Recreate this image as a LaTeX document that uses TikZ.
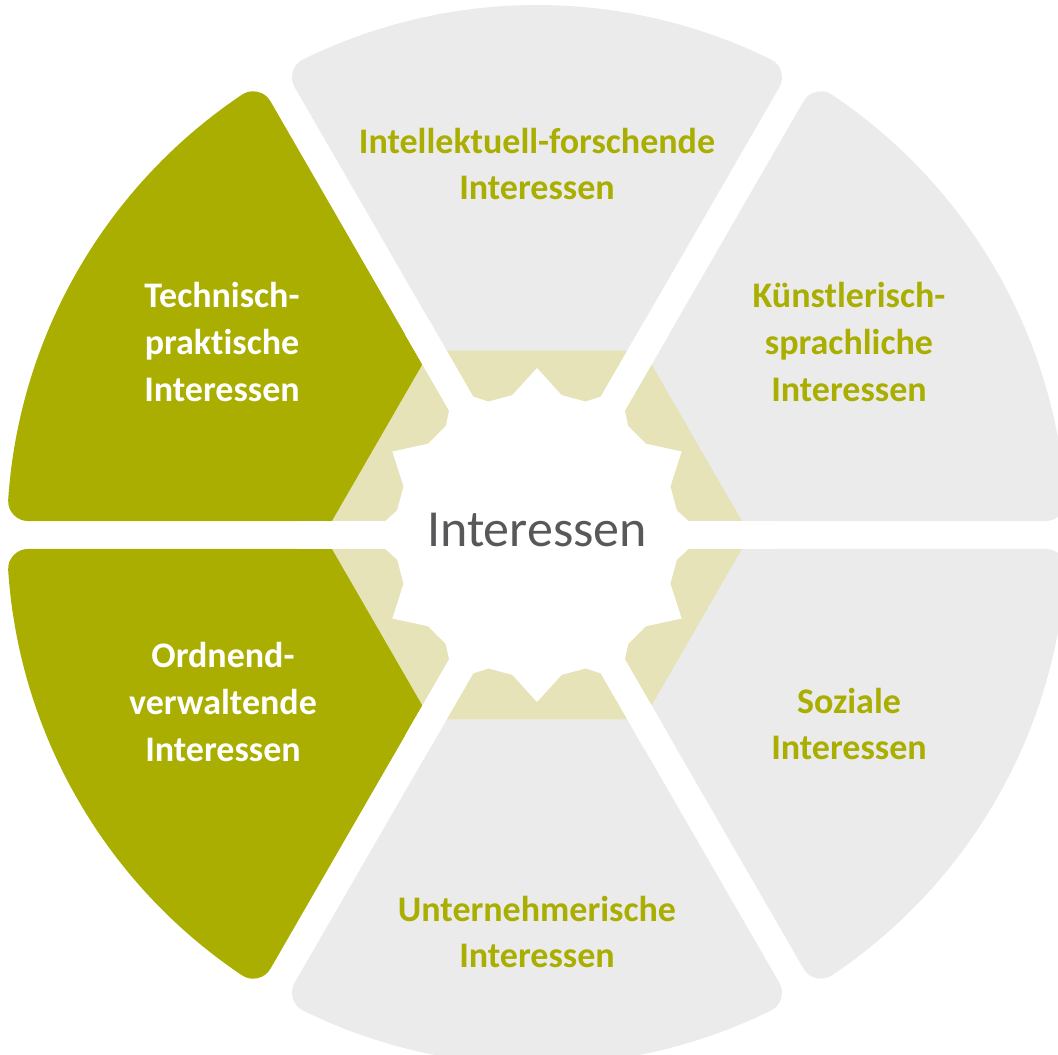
\documentclass[tikz,border=0pt]{standalone}
\usepackage{fontspec}
\setmainfont{Carlito}[Ligatures=CommonOff]
\definecolor{segdark}{HTML}{A9AE00}
\definecolor{seglight}{HTML}{EBEBEB}
\definecolor{hubfill}{HTML}{E6E3B8}
\definecolor{hubtext}{HTML}{58585A}
\tikzset{
  sector/.style={line width=30pt,line join=round},
  darksector/.style={sector,fill=segdark,draw=segdark},
  lightsector/.style={sector,fill=seglight,draw=seglight},
  seclabel/.style={font=\bfseries\fontsize{27}{35}\selectfont,align=center},
}
\begin{document}
\begin{tikzpicture}[x=0.75pt,y=0.75pt]
\useasboundingbox (-537,-520) rectangle (521,535);

% sectors:
\filldraw[lightsector] (90:68) -- (63.82:510) arc[start angle=63.82,end angle=116.18,radius=510] -- cycle;
\filldraw[lightsector] (30:68) -- (3.82:510) arc[start angle=3.82,end angle=56.18,radius=510] -- cycle;
\filldraw[lightsector] (-30:68) -- (-56.18:510) arc[start angle=-56.18,end angle=-3.82,radius=510] -- cycle;
\filldraw[lightsector] (270:68) -- (243.82:510) arc[start angle=243.82,end angle=296.18,radius=510] -- cycle;
\filldraw[darksector] (210:68) -- (183.82:510) arc[start angle=183.82,end angle=236.18,radius=510] -- cycle;
\filldraw[darksector] (150:68) -- (123.82:510) arc[start angle=123.82,end angle=176.18,radius=510] -- cycle;

% hub:
\fill[hubfill] (0:213) -- (60:213) -- (120:213) -- (180:213) -- (240:213) -- (300:213) -- cycle;
\draw[white,line width=21pt] (0:240) -- (180:240);
\draw[white,line width=21pt] (60:240) -- (240:240);
\draw[white,line width=21pt] (120:240) -- (300:240);

% star:
\fill[white] (0:167) -- (10:142) -- (20:142) -- (30:167) -- (40:142) -- (50:142)
  -- (60:167) -- (70:142) -- (80:142) -- (90:167) -- (100:142) -- (110:142)
  -- (120:167) -- (130:142) -- (140:142) -- (150:167) -- (160:142) -- (170:142)
  -- (180:167) -- (190:142) -- (200:142) -- (210:167) -- (220:142) -- (230:142)
  -- (240:167) -- (250:142) -- (260:142) -- (270:167) -- (280:142) -- (290:142)
  -- (300:167) -- (310:142) -- (320:142) -- (330:167) -- (340:142) -- (350:142) -- cycle;
\node[text=hubtext,font=\fontsize{39}{47}\selectfont] (hub) at (0,5) {Interessen};

% labels:
\node[seclabel,text=segdark] (forschend) at (0,371) {Intellektuell-forschende\\Interessen};
\node[seclabel,text=segdark] (kuenstler) at (312,193) {Künstlerisch-\\sprachliche\\Interessen};
\node[seclabel,text=segdark] (sozial) at (312,-189) {Soziale\\Interessen};
\node[seclabel,text=segdark] (unternehmer) at (0,-397) {Unternehmerische\\Interessen};
\node[seclabel,text=white] (ordnend) at (-314,-167) {Ordnend-\\verwaltende\\Interessen};
\node[seclabel,text=white] (technisch) at (-315,193) {Technisch-\\praktische\\Interessen};
\end{tikzpicture}
\end{document}
